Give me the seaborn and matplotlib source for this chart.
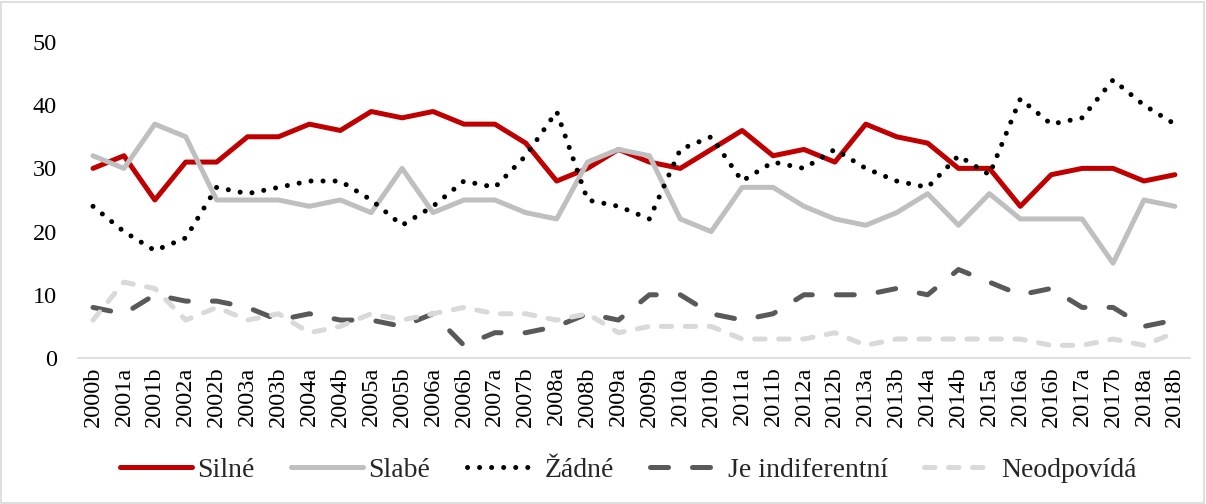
import numpy as np
import pandas as pd
import matplotlib
matplotlib.use("Agg")
import matplotlib.pyplot as plt
import seaborn as sns
from matplotlib.patches import Rectangle

## data
periods = ['2000b', '2001a', '2001b', '2002a', '2002b', '2003a', '2003b', '2004a', '2004b',
           '2005a', '2005b', '2006a', '2006b', '2007a', '2007b', '2008a', '2008b', '2009a',
           '2009b', '2010a', '2010b', '2011a', '2011b', '2012a', '2012b', '2013a', '2013b',
           '2014a', '2014b', '2015a', '2016a', '2016b', '2017a', '2017b', '2018a', '2018b']

silne = [30, 32, 25, 31, 31, 35, 35, 37, 36, 39, 38, 39, 37, 37, 34, 28, 30, 33,
         31, 30, 33, 36, 32, 33, 31, 37, 35, 34, 30, 30, 24, 29, 30, 30, 28, 29]
slabe = [32, 30, 37, 35, 25, 25, 25, 24, 25, 23, 30, 23, 25, 25, 23, 22, 31, 33,
         32, 22, 20, 27, 27, 24, 22, 21, 23, 26, 21, 26, 22, 22, 22, 15, 25, 24]
zadne = [24, 20, 17, 19, 27, 26, 27, 28, 28, 25, 21, 24, 28, 27, 32, 39, 25, 24,
         22, 33, 35, 28, 31, 30, 33, 30, 28, 27, 32, 29, 41, 37, 38, 44, 40, 37]
indiferentni = [8, 7, 10, 9, 9, 8, 6, 7, 6, 6, 5, 7, 2, 4, 4, 5, 7, 6,
                10, 10, 7, 6, 7, 10, 10, 10, 11, 10, 14, 12, 10, 11, 8, 8, 5, 6]
neodpovida = [6, 12, 11, 6, 8, 6, 7, 4, 5, 7, 6, 7, 8, 7, 7, 6, 7, 4,
              5, 5, 5, 3, 3, 3, 4, 2, 3, 3, 3, 3, 3, 2, 2, 3, 2, 4]

series = [
    ('Silné', silne, '#C00000', '-'),
    ('Slabé', slabe, '#BFBFBF', '-'),
    ('Žádné', zadne, '#000000', (0, (0.01, 2.4))),
    ('Je indiferentní', indiferentni, '#595959', (0, (3.6, 4.8))),
    ('Neodpovídá', neodpovida, '#D9D9D9', (0, (2.1, 2.7))),
]

sns.set_style('white')
plt.rcParams['font.family'] = ['Liberation Serif', 'DejaVu Serif']

fig = plt.figure(figsize=(12.06, 5.04), dpi=100)
ax = fig.add_axes([0.0643, 0.2897, 0.9227, 0.627])

x = np.arange(len(periods))
for name, vals, col, ls in series:
    df = pd.DataFrame({'x': x, 'y': vals})
    sns.lineplot(data=df, x='x', y='y', ax=ax, color=col, linewidth=3.6,
                 label=name, solid_capstyle='round', dash_capstyle='round')
    ax.lines[-1].set_linestyle(ls)
    ax.lines[-1].set_dash_capstyle('round')

ax.set_xlim(-0.5, len(periods) - 0.5)
ax.set_ylim(0, 50)
ax.set_yticks(range(0, 51, 10))
ax.set_xticks(x)
ax.set_xticklabels(periods, rotation=90)
ax.tick_params(axis='both', length=0, labelsize=17.5, colors='black')
ax.tick_params(axis='y', pad=15)
ax.tick_params(axis='x', pad=6)
ax.set_xlabel('')
ax.set_ylabel('')
for s in ['top', 'right', 'left']:
    ax.spines[s].set_visible(False)
ax.spines['bottom'].set_color('#D9D9D9')
ax.spines['bottom'].set_linewidth(1.2)

leg = ax.legend(loc='center', bbox_to_anchor=(0.495, -0.355), ncol=5, frameon=False,
                fontsize=20, handlelength=2.6, columnspacing=1.3, handletextpad=0.2)
for h, (_, _, col, ls) in zip(leg.get_lines(), series):
    h.set_linestyle(ls)
    h.set_dash_capstyle('round')

fig.patches.append(Rectangle((0.001, 0.002), 0.997, 0.995, transform=fig.transFigure,
                             fill=False, edgecolor='#D9D9D9', linewidth=1.2))

fig.savefig('out.png', dpi=100)
